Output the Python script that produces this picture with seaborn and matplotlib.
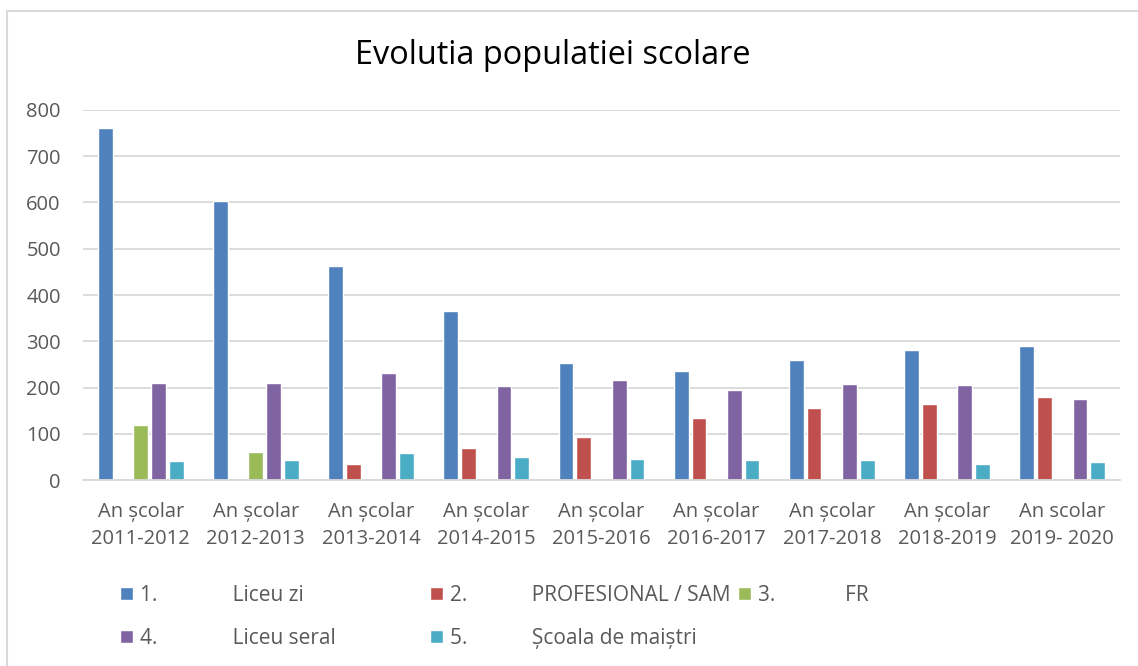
import pandas as pd
import matplotlib.pyplot as plt
import matplotlib.patches as mpatches
import seaborn as sns

# chart data
years = ["An școlar\n2011-2012", "An școlar\n2012-2013", "An școlar\n2013-2014",
         "An școlar\n2014-2015", "An școlar\n2015-2016", "An școlar\n2016-2017",
         "An școlar\n2017-2018", "An școlar\n2018-2019", "An scolar\n2019- 2020"]
series = ["1.              Liceu zi", "2.            PROFESIONAL / SAM",
          "3.             FR", "4.              Liceu seral",
          "5.            Școala de maiștri"]
liceu_zi = [760, 604, 463, 365, 253, 235, 260, 282, 289]
profesional = [None, None, 36, 70, 94, 135, 157, 165, 180]
fr = [120, 60, None, None, None, None, None, None, None]
liceu_seral = [211, 210, 231, 204, 217, 195, 208, 206, 176]
scoala_maistri = [42, 44, 59, 50, 46, 43, 44, 34, 39]
colors = ["#4f81bd", "#c0504d", "#9bbb59", "#8064a2", "#4bacc6"]

rows = []
for name, vals in zip(series, [liceu_zi, profesional, fr, liceu_seral, scoala_maistri]):
    for yr, v in zip(years, vals):
        if v is not None:
            rows.append({"An": yr, "Tip": name, "Elevi": v})
df = pd.DataFrame(rows)

sns.set_style("white")
plt.rcParams["font.family"] = ["Open Sans", "DejaVu Sans"]

fig = plt.figure(figsize=(11.38, 6.66), dpi=100)
ax = fig.add_axes([0.073, 0.279, 0.911, 0.556])

sns.barplot(data=df, x="An", y="Elevi", hue="Tip", order=years, hue_order=series,
            palette=colors, width=0.77, gap=0.17, saturation=1, ax=ax)

ax.set_ylim(0, 800)
ax.set_yticks(range(0, 801, 100))
ax.yaxis.grid(True, color="#d9d9d9", linewidth=1.3)
ax.set_axisbelow(True)
for s in ["top", "right", "left"]:
    ax.spines[s].set_visible(False)
ax.spines["bottom"].set_color("#d9d9d9")
ax.spines["bottom"].set_linewidth(1.3)
ax.tick_params(axis="both", length=0, labelsize=14.5, colors="#595959")
ax.tick_params(axis="x", pad=15.5)
ax.tick_params(axis="y", pad=16)
for t in ax.get_xticklabels():
    t.set_linespacing(1.5)
ax.set_xlabel("")
ax.set_ylabel("")

fig.text(0.4855, 0.917, "Evolutia populatiei scolare", ha="center", va="center",
         fontsize=23.4, color="black")

# legend laid out like Excel: three fixed-width columns
handles, labels = ax.get_legend_handles_labels()
ax.get_legend().remove()
columns = [([0, 3], 120), ([1, 4], 430), ([2], 738)]
for idx, xpix in columns:
    fig.legend([handles[i] for i in idx], [labels[i] for i in idx],
               loc="upper left", bbox_to_anchor=(xpix / 1138, 0.122), frameon=False,
               fontsize=15, labelcolor="#595959", handlelength=0.62, handleheight=0.62,
               handletextpad=0.35, labelspacing=1.05, borderpad=0, borderaxespad=0)

# chart border
fig.patches.append(mpatches.Rectangle((0.006, -0.1), 1.1, 1.083, transform=fig.transFigure,
                                      fill=False, edgecolor="#d9d9d9", linewidth=1.5))

plt.savefig("out.png", dpi=100)
